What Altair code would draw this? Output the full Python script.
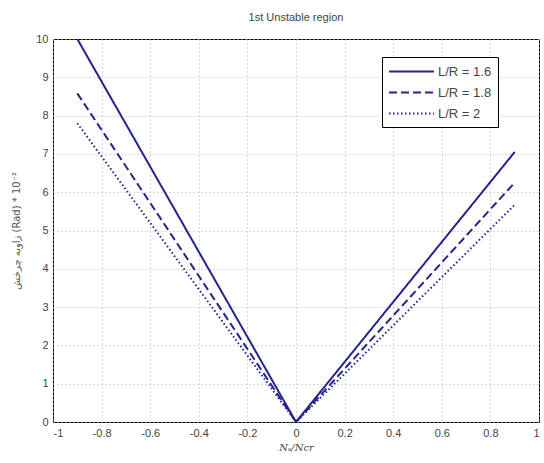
import altair as alt
import pandas as pd

# data
x_vals = [-0.9, 0.0, 0.9]
y_lr16 = [10.0, 0.0, 7.05]
y_lr18 = [8.58, 0.0, 6.25]
y_lr20 = [7.8, 0.0, 5.67]
series_names = ["L/R = 1.6", "L/R = 1.8", "L/R = 2"]

rows = []
for name, ys in zip(series_names, [y_lr16, y_lr18, y_lr20]):
    for xv, yv in zip(x_vals, ys):
        rows.append({"x": xv, "y": yv, "series": name})
df = pd.DataFrame(rows)

navy = "#24248f"
font = "Liberation Sans"

x_ticks = [round(-1 + 0.2 * i, 1) for i in range(11)]
y_ticks = list(range(0, 11))

chart = alt.Chart(df).mark_line(strokeWidth=2, clip=True).encode(
    x=alt.X("x:Q",
            scale=alt.Scale(domain=[-1, 1], nice=False, zero=False),
            axis=alt.Axis(values=x_ticks, title="Nₛ/Ncr", format="~g",
                          labelExpr="replace(datum.label, '\u2212', '-')",
                          titleFont="DejaVu Serif", titleFontStyle="italic",
                          titleFontWeight="normal", titleFontSize=10,
                          titleColor="#444", titlePadding=4)),
    y=alt.Y("y:Q",
            scale=alt.Scale(domain=[0, 10], nice=False),
            axis=alt.Axis(values=y_ticks, title="زاویه چرخش (Rad) * 10⁻²",
                          titleFont="DejaVu Sans", titleFontWeight="normal",
                          titleFontSize=10, titleColor="#555", titlePadding=14)),
    color=alt.Color("series:N", sort=series_names,
                    scale=alt.Scale(domain=series_names, range=[navy, navy, navy]),
                    legend=alt.Legend(title=None)),
    strokeDash=alt.StrokeDash("series:N", sort=series_names,
                              scale=alt.Scale(domain=series_names,
                                              range=[[1, 0], [8, 4], [1.5, 2.5]]),
                              legend=alt.Legend(title=None)),
).properties(
    width=486, height=383,
    title=alt.TitleParams("1st Unstable region", font=font, fontSize=11,
                          fontWeight="normal", color="#444", offset=10),
    autosize=alt.AutoSizeParams(type="none"),
    padding={"left": 53, "top": 39, "right": 5, "bottom": 41},
).configure_view(
    stroke="black", strokeWidth=1
).configure_axis(
    grid=True, gridColor="#b0b0b0", gridDash=[1, 3], gridWidth=1,
    domain=False, ticks=False,
    labelFont=font, labelFontSize=11, labelColor="#444", labelPadding=5,
).configure_legend(
    orient="none", legendX=329, legendY=18,
    strokeColor="black", fillColor="white", padding=6, cornerRadius=0,
    symbolType="M-5,0H1", symbolSize=225, symbolStrokeWidth=2,
    symbolOffset=30,
    labelFont=font, labelFontSize=13, labelColor="#444",
    rowPadding=5, labelOffset=3,
).configure_title(anchor="middle")

chart.save("out.html", embed_options={"renderer": "svg", "actions": False})
